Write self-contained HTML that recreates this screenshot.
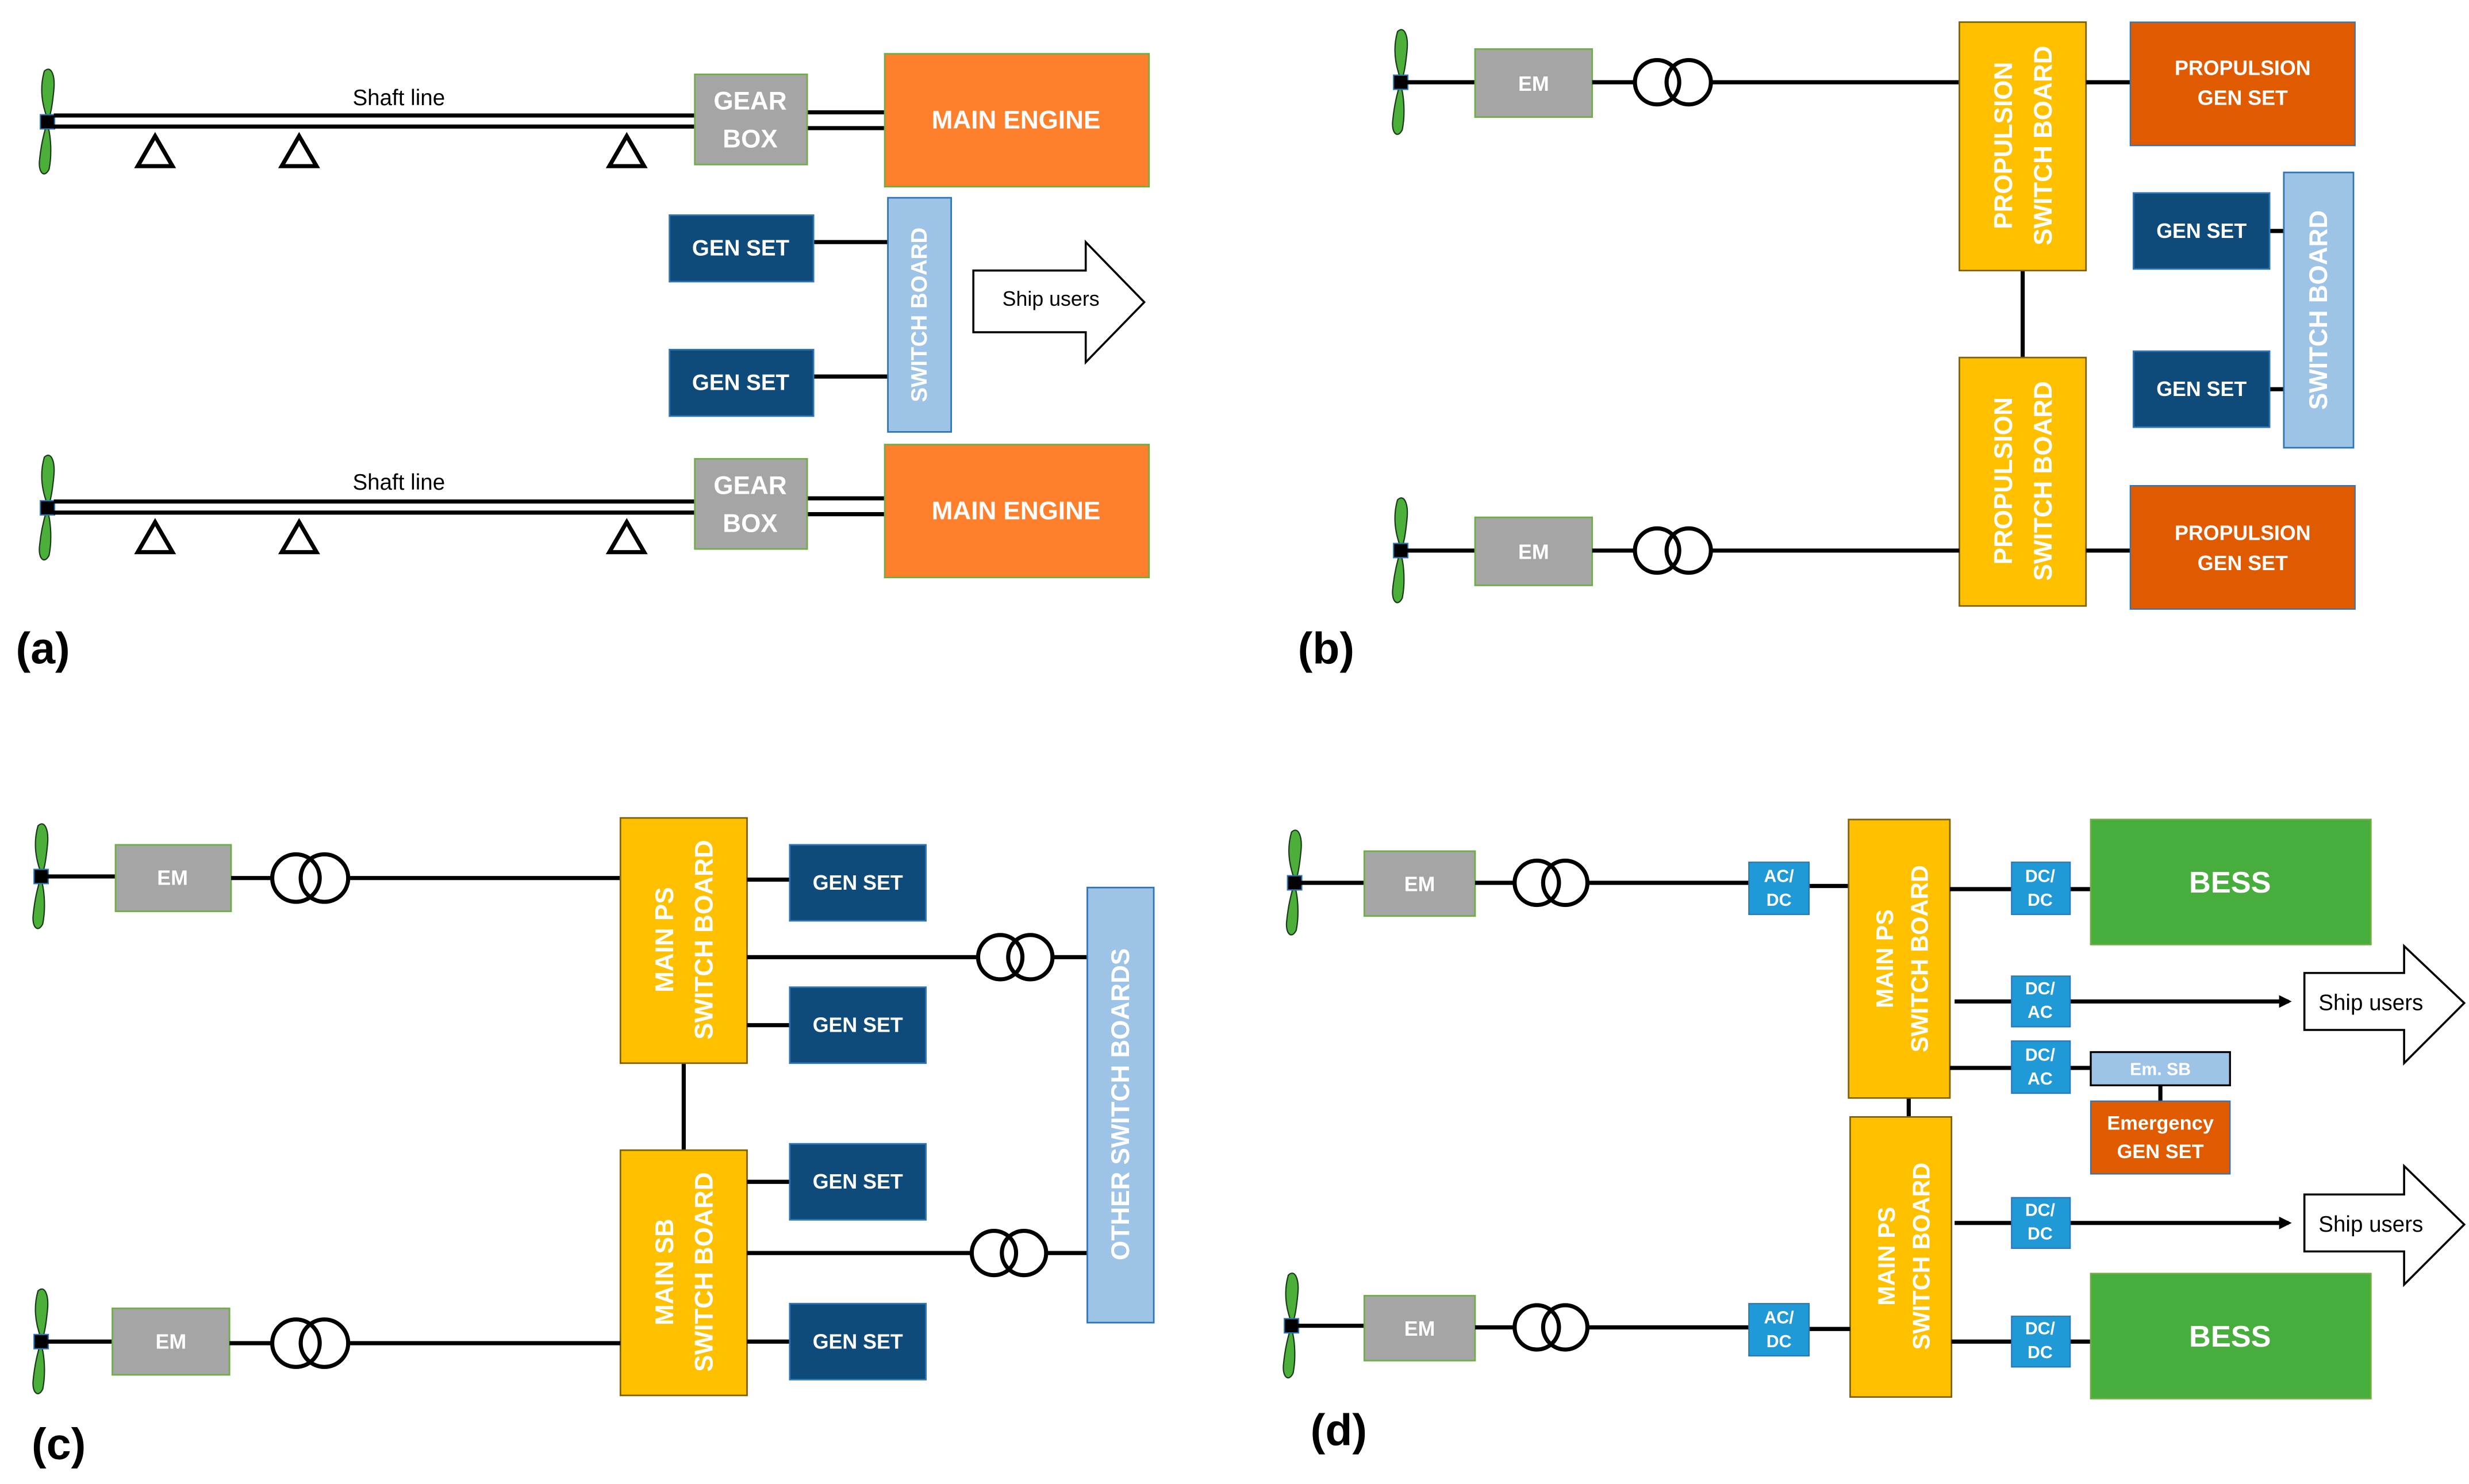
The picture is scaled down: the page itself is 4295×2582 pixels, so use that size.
<!DOCTYPE html>
<html><head><meta charset="utf-8"><style>
html,body{margin:0;padding:0;background:#fff;}
svg{display:block;}
text{font-family:"Liberation Sans",sans-serif;}
.w{fill:#fff;font-weight:bold;text-anchor:middle;dominant-baseline:central;}
.ln{stroke:#000;stroke-width:2.6;fill:none;}
.gray{fill:#a5a5a5;stroke:#70ad47;stroke-width:1;}
.gen{fill:#0e4b7a;stroke:#2e75b6;stroke-width:1;}
.sb{fill:#9dc3e6;stroke:#2e75b6;stroke-width:1;}
.yel{fill:#ffc000;stroke:#7f6000;stroke-width:1;}
.conv{fill:#1f9ad6;stroke:#2e75b6;stroke-width:0.8;}
.org{fill:#e05a00;stroke:#2e75b6;stroke-width:0.8;}
.grn{fill:#47ad3c;stroke:#70ad47;stroke-width:1;}
.tr{fill:none;stroke:#000;stroke-width:2.6;}
</style></head><body>
<svg width="4295" height="2582" viewBox="0 0 1560 938" preserveAspectRatio="none" xmlns="http://www.w3.org/2000/svg">
<defs>
<g id="prop">
<path d="M0,-2 C-5,-15 -4,-25 -2,-32 C2,-36 5,-30 4,-20 C3,-10 2,-4 0,0 C-2,6 -4,14 -5,24 C-6,32 -2,36 1,30 C3,20 2,8 0,2 Z" fill="#4caf3a" stroke="#1a3a1a" stroke-width="0.8"/>
<rect x="-4.5" y="-4.5" width="9" height="9" fill="#000" stroke="#2e75b6" stroke-width="0.8"/>
</g>
<marker id="ah" markerWidth="8" markerHeight="8" refX="6" refY="4" orient="auto" markerUnits="userSpaceOnUse"><path d="M0,0 L8,4 L0,8 Z" fill="#000"/></marker>
</defs>

<!-- ===== (a) ===== -->
<use href="#prop" x="30" y="77"/>
<line class="ln" x1="34" y1="73" x2="440" y2="73"/>
<line class="ln" x1="34" y1="80" x2="440" y2="80"/>
<text x="252" y="62" font-size="14" text-anchor="middle" dominant-baseline="central">Shaft line</text>
<g class="ln" stroke-width="2">
<path d="M98,86 L87,105 L109,105 Z"/><path d="M189,86 L178,105 L200,105 Z"/><path d="M396,86 L385,105 L407,105 Z"/>
</g>
<line class="ln" x1="510" y1="71" x2="559" y2="71"/><line class="ln" x1="510" y1="81" x2="559" y2="81"/>
<rect class="gray" x="439" y="47" width="71" height="57"/>
<text class="w" x="474" y="64" font-size="16">GEAR</text><text class="w" x="474" y="88" font-size="16">BOX</text>
<rect x="559" y="34" width="167" height="84" fill="#fd7f2c" stroke="#70ad47" stroke-width="1"/>
<text class="w" x="642" y="76" font-size="16">MAIN ENGINE</text>

<line class="ln" x1="514" y1="153" x2="561" y2="153"/><line class="ln" x1="514" y1="238" x2="561" y2="238"/>
<rect class="gen" x="423" y="136" width="91" height="42"/><text class="w" x="468" y="157" font-size="14">GEN SET</text>
<rect class="gen" x="423" y="221" width="91" height="42"/><text class="w" x="468" y="242" font-size="14">GEN SET</text>
<rect class="sb" x="561" y="125" width="40" height="148"/>
<text class="w" font-size="14" transform="translate(581,199) rotate(-90)">SWITCH BOARD</text>
<path d="M615,171 L686,171 L686,153 L723,191 L686,229 L686,210 L615,210 Z" fill="#fff" stroke="#000" stroke-width="1.3"/>
<text x="664" y="189" font-size="13" text-anchor="middle" dominant-baseline="central">Ship users</text>

<use href="#prop" x="30" y="321"/>
<line class="ln" x1="34" y1="317" x2="440" y2="317"/>
<line class="ln" x1="34" y1="324" x2="440" y2="324"/>
<text x="252" y="305" font-size="14" text-anchor="middle" dominant-baseline="central">Shaft line</text>
<g class="ln" stroke-width="2">
<path d="M98,330 L87,349 L109,349 Z"/><path d="M189,330 L178,349 L200,349 Z"/><path d="M396,330 L385,349 L407,349 Z"/>
</g>
<line class="ln" x1="510" y1="315" x2="559" y2="315"/><line class="ln" x1="510" y1="325" x2="559" y2="325"/>
<rect class="gray" x="439" y="290" width="71" height="57"/>
<text class="w" x="474" y="307" font-size="16">GEAR</text><text class="w" x="474" y="331" font-size="16">BOX</text>
<rect x="559" y="281" width="167" height="84" fill="#fd7f2c" stroke="#70ad47" stroke-width="1"/>
<text class="w" x="642" y="323" font-size="16">MAIN ENGINE</text>
<text x="10" y="410" font-size="28" font-weight="bold" dominant-baseline="central">(a)</text>

<!-- ===== (b) ===== -->
<use href="#prop" x="885" y="52"/>
<line class="ln" x1="889" y1="52" x2="932" y2="52"/>
<rect class="gray" x="932" y="31" width="74" height="43"/><text class="w" x="969" y="53" font-size="13">EM</text>
<line class="ln" x1="1006" y1="52" x2="1033" y2="52"/><line class="ln" x1="1081" y1="52" x2="1238" y2="52"/>
<circle class="tr" cx="1047" cy="52" r="14"/><circle class="tr" cx="1067" cy="52" r="14"/>
<line class="ln" x1="1278" y1="171" x2="1278" y2="226"/>
<rect class="yel" x="1238" y="14" width="80" height="157"/>
<text class="w" font-size="16" transform="translate(1266,92) rotate(-90)">PROPULSION</text>
<text class="w" font-size="16" transform="translate(1291,92) rotate(-90)">SWITCH BOARD</text>
<rect class="yel" x="1238" y="226" width="80" height="157"/>
<text class="w" font-size="16" transform="translate(1266,304) rotate(-90)">PROPULSION</text>
<text class="w" font-size="16" transform="translate(1291,304) rotate(-90)">SWITCH BOARD</text>
<line class="ln" x1="1318" y1="52" x2="1346" y2="52"/>
<rect class="org" x="1346" y="14" width="142" height="78"/>
<text class="w" x="1417" y="43" font-size="13">PROPULSION</text><text class="w" x="1417" y="62" font-size="13">GEN SET</text>
<line class="ln" x1="1434" y1="146" x2="1443" y2="146"/><line class="ln" x1="1434" y1="246" x2="1443" y2="246"/>
<rect class="gen" x="1348" y="122" width="86" height="48"/><text class="w" x="1391" y="146" font-size="13">GEN SET</text>
<rect class="gen" x="1348" y="222" width="86" height="48"/><text class="w" x="1391" y="246" font-size="13">GEN SET</text>
<rect class="sb" x="1443" y="109" width="44" height="174"/>
<text class="w" font-size="16" transform="translate(1465,196) rotate(-90)">SWITCH BOARD</text>
<use href="#prop" x="885" y="348"/>
<line class="ln" x1="889" y1="348" x2="932" y2="348"/>
<rect class="gray" x="932" y="327" width="74" height="43"/><text class="w" x="969" y="349" font-size="13">EM</text>
<line class="ln" x1="1006" y1="348" x2="1033" y2="348"/><line class="ln" x1="1081" y1="348" x2="1238" y2="348"/>
<circle class="tr" cx="1047" cy="348" r="14"/><circle class="tr" cx="1067" cy="348" r="14"/>
<line class="ln" x1="1318" y1="348" x2="1346" y2="348"/>
<rect class="org" x="1346" y="307" width="142" height="78"/>
<text class="w" x="1417" y="337" font-size="13">PROPULSION</text><text class="w" x="1417" y="356" font-size="13">GEN SET</text>
<text x="820" y="410" font-size="28" font-weight="bold" dominant-baseline="central">(b)</text>

<!-- ===== (c) ===== -->
<use href="#prop" x="26" y="554"/>
<line class="ln" x1="30" y1="554" x2="73" y2="554"/>
<rect class="gray" x="73" y="534" width="73" height="42"/><text class="w" x="109" y="555" font-size="13">EM</text>
<line class="ln" x1="146" y1="555" x2="172" y2="555"/><line class="ln" x1="220" y1="555" x2="392" y2="555"/>
<circle class="tr" cx="187" cy="555" r="15"/><circle class="tr" cx="205" cy="555" r="15"/>
<line class="ln" x1="432" y1="672" x2="432" y2="727"/>
<rect class="yel" x="392" y="517" width="80" height="155"/>
<text class="w" font-size="16" transform="translate(420,594) rotate(-90)">MAIN PS</text>
<text class="w" font-size="16" transform="translate(445,594) rotate(-90)">SWITCH BOARD</text>
<rect class="yel" x="392" y="727" width="80" height="155"/>
<text class="w" font-size="16" transform="translate(420,804) rotate(-90)">MAIN SB</text>
<text class="w" font-size="16" transform="translate(445,804) rotate(-90)">SWITCH BOARD</text>
<line class="ln" x1="472" y1="556" x2="499" y2="556"/><line class="ln" x1="472" y1="648" x2="499" y2="648"/>
<line class="ln" x1="472" y1="747" x2="499" y2="747"/><line class="ln" x1="472" y1="848" x2="499" y2="848"/>
<rect class="gen" x="499" y="534" width="86" height="48"/><text class="w" x="542" y="558" font-size="13">GEN SET</text>
<rect class="gen" x="499" y="624" width="86" height="48"/><text class="w" x="542" y="648" font-size="13">GEN SET</text>
<rect class="gen" x="499" y="723" width="86" height="48"/><text class="w" x="542" y="747" font-size="13">GEN SET</text>
<rect class="gen" x="499" y="824" width="86" height="48"/><text class="w" x="542" y="848" font-size="13">GEN SET</text>
<line class="ln" x1="472" y1="605" x2="617" y2="605"/><line class="ln" x1="666" y1="605" x2="687" y2="605"/>
<circle class="tr" cx="632" cy="605" r="14"/><circle class="tr" cx="651" cy="605" r="14"/>
<line class="ln" x1="472" y1="792" x2="613" y2="792"/><line class="ln" x1="662" y1="792" x2="687" y2="792"/>
<circle class="tr" cx="628" cy="792" r="14"/><circle class="tr" cx="647" cy="792" r="14"/>
<rect class="sb" x="687" y="561" width="42" height="275"/>
<text class="w" font-size="16" transform="translate(708,698) rotate(-90)">OTHER SWITCH BOARDS</text>
<use href="#prop" x="26" y="848"/>
<line class="ln" x1="30" y1="848" x2="71" y2="848"/>
<rect class="gray" x="71" y="827" width="74" height="42"/><text class="w" x="108" y="848" font-size="13">EM</text>
<line class="ln" x1="145" y1="849" x2="172" y2="849"/><line class="ln" x1="220" y1="849" x2="392" y2="849"/>
<circle class="tr" cx="187" cy="849" r="15"/><circle class="tr" cx="205" cy="849" r="15"/>
<text x="20" y="913" font-size="28" font-weight="bold" dominant-baseline="central">(c)</text>

<!-- ===== (d) ===== -->
<use href="#prop" x="818" y="558"/>
<line class="ln" x1="822" y1="558" x2="862" y2="558"/>
<rect class="gray" x="862" y="538" width="70" height="41"/><text class="w" x="897" y="559" font-size="13">EM</text>
<line class="ln" x1="932" y1="558" x2="957" y2="558"/><line class="ln" x1="1003" y1="558" x2="1105" y2="558"/>
<circle class="tr" cx="971" cy="558" r="14"/><circle class="tr" cx="989" cy="558" r="14"/>
<line class="ln" x1="1143" y1="560" x2="1168" y2="560"/>
<rect class="conv" x="1105" y="545" width="38" height="33"/>
<text class="w" x="1124" y="554" font-size="11">AC/</text><text class="w" x="1124" y="569" font-size="11">DC</text>
<line class="ln" x1="1206" y1="694" x2="1206" y2="706"/>
<rect class="yel" x="1168" y="518" width="64" height="176"/>
<text class="w" font-size="15" transform="translate(1191,606) rotate(-90)">MAIN PS</text>
<text class="w" font-size="15" transform="translate(1213,606) rotate(-90)">SWITCH BOARD</text>
<rect class="yel" x="1169" y="706" width="64" height="177"/>
<text class="w" font-size="15" transform="translate(1192,794) rotate(-90)">MAIN PS</text>
<text class="w" font-size="15" transform="translate(1214,794) rotate(-90)">SWITCH BOARD</text>

<line class="ln" x1="1232" y1="562" x2="1271" y2="562"/><line class="ln" x1="1308" y1="562" x2="1321" y2="562"/>
<rect class="conv" x="1271" y="545" width="37" height="33"/>
<text class="w" x="1289" y="554" font-size="11">DC/</text><text class="w" x="1289" y="569" font-size="11">DC</text>
<rect class="grn" x="1321" y="518" width="177" height="79"/><text class="w" x="1409" y="558" font-size="19">BESS</text>

<line class="ln" x1="1235" y1="633" x2="1271" y2="633"/><line class="ln" x1="1308" y1="633" x2="1446" y2="633" marker-end="url(#ah)"/>
<rect class="conv" x="1271" y="617" width="37" height="32"/>
<text class="w" x="1289" y="625" font-size="11">DC/</text><text class="w" x="1289" y="640" font-size="11">AC</text>
<path d="M1456,615 L1519,615 L1519,598 L1557,634 L1519,672 L1519,651 L1456,651 Z" fill="#fff" stroke="#000" stroke-width="1.3"/>
<text x="1498" y="634" font-size="14" text-anchor="middle" dominant-baseline="central">Ship users</text>

<line class="ln" x1="1232" y1="675" x2="1271" y2="675"/><line class="ln" x1="1308" y1="675" x2="1321" y2="675"/>
<rect class="conv" x="1271" y="658" width="37" height="33"/>
<text class="w" x="1289" y="667" font-size="11">DC/</text><text class="w" x="1289" y="682" font-size="11">AC</text>
<line class="ln" x1="1365" y1="686" x2="1365" y2="696"/>
<rect x="1321" y="665" width="88" height="21" fill="#9dc3e6" stroke="#000" stroke-width="1.2"/>
<text class="w" x="1365" y="676" font-size="11" font-weight="normal">Em. SB</text>
<rect class="org" x="1321" y="696" width="88" height="46"/>
<text class="w" x="1365" y="710" font-size="12.5">Emergency</text><text class="w" x="1365" y="728" font-size="12.5">GEN SET</text>

<line class="ln" x1="1235" y1="773" x2="1271" y2="773"/><line class="ln" x1="1308" y1="773" x2="1446" y2="773" marker-end="url(#ah)"/>
<rect class="conv" x="1271" y="757" width="37" height="32"/>
<text class="w" x="1289" y="765" font-size="11">DC/</text><text class="w" x="1289" y="780" font-size="11">DC</text>
<path d="M1456,755 L1519,755 L1519,737 L1557,774 L1519,812 L1519,791 L1456,791 Z" fill="#fff" stroke="#000" stroke-width="1.3"/>
<text x="1498" y="774" font-size="14" text-anchor="middle" dominant-baseline="central">Ship users</text>

<line class="ln" x1="1233" y1="848" x2="1271" y2="848"/><line class="ln" x1="1308" y1="848" x2="1321" y2="848"/>
<rect class="conv" x="1271" y="832" width="37" height="32"/>
<text class="w" x="1289" y="840" font-size="11">DC/</text><text class="w" x="1289" y="855" font-size="11">DC</text>
<rect class="grn" x="1321" y="805" width="177" height="79"/><text class="w" x="1409" y="845" font-size="19">BESS</text>

<use href="#prop" x="816" y="838"/>
<line class="ln" x1="820" y1="838" x2="862" y2="838"/>
<rect class="gray" x="862" y="819" width="70" height="41"/><text class="w" x="897" y="840" font-size="13">EM</text>
<line class="ln" x1="932" y1="839" x2="957" y2="839"/><line class="ln" x1="1003" y1="839" x2="1105" y2="839"/>
<circle class="tr" cx="971" cy="839" r="14"/><circle class="tr" cx="989" cy="839" r="14"/>
<line class="ln" x1="1143" y1="840" x2="1169" y2="840"/>
<rect class="conv" x="1105" y="824" width="38" height="33"/>
<text class="w" x="1124" y="833" font-size="11">AC/</text><text class="w" x="1124" y="848" font-size="11">DC</text>
<text x="828" y="904" font-size="28" font-weight="bold" dominant-baseline="central">(d)</text>
</svg>
</body></html>
